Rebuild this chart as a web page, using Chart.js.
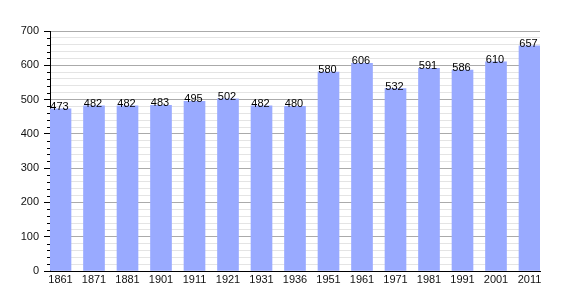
<!DOCTYPE html>
<html>
<head>
<meta charset="utf-8">
<script src="https://cdn.jsdelivr.net/npm/chart.js@4/dist/chart.umd.min.js"></script>
<style>
  html, body { margin: 0; padding: 0; background: #fff; }
  #wrap { width: 570px; height: 300px; position: relative; }
</style>
</head>
<body>
<div id="wrap"><canvas id="c"></canvas></div>
<script>
/* population by census year */
const years = ['1861', '1871', '1881', '1901', '1911', '1921', '1931', '1936', '1951', '1961', '1971', '1981', '1991', '2001', '2011'];
const population = [473, 482, 482, 483, 495, 502, 482, 480, 580, 606, 532, 591, 586, 610, 657];
const yTicks = [0, 100, 200, 300, 400, 500, 600, 700];

const FONT = "'Liberation Sans', Arial, sans-serif";
const BAR_W = 21;
const PAD = 10.5 / 33.5;

// short minor ticks on the y axis + value labels above bars
const extras = {
    id: 'extras',
    afterDatasetsDraw(chart) {
        const { ctx, scales: { x, y } } = chart;
        ctx.save();
        ctx.strokeStyle = '#000';
        ctx.lineWidth = 1;
        for (let v = 20; v < 700; v += 20) {
            if (v % 100 === 0) continue;
            const py = Math.round(y.getPixelForValue(v)) + 0.5;
            ctx.beginPath();
            ctx.moveTo(x.left - 3, py);
            ctx.lineTo(x.left, py);
            ctx.stroke();
        }
        ctx.fillStyle = '#000';
        ctx.font = '11px ' + FONT;
        ctx.textAlign = 'center';
        ctx.textBaseline = 'alphabetic';
        chart.getDatasetMeta(0).data.forEach((bar, i) => {
            ctx.fillText(String(population[i]), bar.x - 1, bar.y + 1);
        });
        ctx.restore();
    }
};

new Chart(document.getElementById('c').getContext('2d'), {
    type: 'bar',
    data: {
        datasets: [{
            data: population.map((v, i) => ({ x: i, y: v })),
            backgroundColor: '#99aaff',
            borderWidth: 0,
            barThickness: BAR_W,
        }],
    },
    options: {
        responsive: true,
        maintainAspectRatio: false,
        animation: false,
        layout: { padding: { left: 0, right: 30, top: 31, bottom: 0 } },
        plugins: { legend: { display: false }, tooltip: { enabled: false } },
        scales: {
            x: {
                type: 'linear',
                offset: false,
                min: -PAD,
                max: years.length - 1 + PAD,
                afterFit(s) { s.height = 29; },
                afterBuildTicks(s) { s.ticks = years.map((_, i) => ({ value: i })); },
                ticks: {
                    color: '#111',
                    font: { family: FONT, size: 11 },
                    padding: 2,
                    maxRotation: 0,
                    autoSkip: false,
                    callback: v => years[v] ?? '',
                },
                grid: { display: false, drawTicks: false, offset: false },
                border: { display: true, color: '#000', width: 1 },
            },
            y: {
                min: 0,
                max: 700,
                afterFit(s) { s.width = 50; },
                ticks: {
                    stepSize: 20,
                    autoSkip: false,
                    color: '#111',
                    font: { family: FONT, size: 11 },
                    padding: 5,
                    callback: v => (yTicks.includes(v) ? String(v) : ''),
                },
                grid: {
                    color: ctx => (ctx.tick && ctx.tick.value % 100 === 0 ? '#aaaaaa' : '#e4e4e4'),
                    tickColor: ctx => (ctx.tick && ctx.tick.value % 100 === 0 ? '#000' : 'rgba(0,0,0,0)'),
                    tickLength: 6,
                    lineWidth: 1,
                },
                border: { display: true, color: '#000', width: 1 },
            },
        },
    },
    plugins: [extras],
});
</script>
</body>
</html>
